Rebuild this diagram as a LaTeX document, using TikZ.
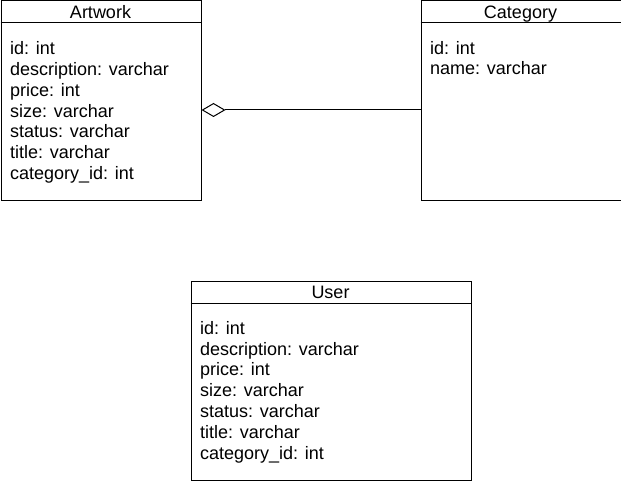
\documentclass[tikz,border=0pt]{standalone}
\usepackage{fontspec}
\setmainfont{Liberation Sans}
\usetikzlibrary{arrows.meta}
\begin{document}
\begin{tikzpicture}[x=1pt,y=-1pt,
  classbox/.style={draw=black,line width=1pt,anchor=north west,inner sep=0pt,minimum width=#1,minimum height=200pt},
  title/.style={anchor=base,inner sep=0pt,font=\fontsize{18}{21}\selectfont},
  attrs/.style={anchor=base west,inner sep=0pt,align=left,font=\fontsize{18}{20.8}\selectfont},
  sep/.style={line width=1pt}]
\useasboundingbox (0,0) rectangle (621,481);
% Artwork
\node[classbox=200pt] (art) at (0.5,0.5) {};
\draw[sep] (0.5,23) -- (200.5,23);
\node[title] (artT) at (100.5,18.5) {Artwork};
\node[attrs] (artA) at (10,179.5) {id: int\\description: varchar\\price: int\\size: varchar\\status: varchar\\title: varchar\\category\_id: int};
% Category
\node[classbox=200pt] (cat) at (420.5,0.5) {};
\draw[sep] (420.5,23) -- (620.5,23);
\node[title] (catT) at (520.5,18.5) {Category};
\node[attrs] (catA) at (430,75) {id: int\\name: varchar};
% User
\node[classbox=280pt,minimum height=199.5pt] (usr) at (190.5,280.5) {};
\draw[sep] (190.5,303) -- (470.5,303);
\node[title] (usrT) at (330.5,298.5) {User};
\node[attrs] (usrA) at (200,459) {id: int\\description: varchar\\price: int\\size: varchar\\status: varchar\\title: varchar\\category\_id: int};
% connector
\draw[line width=1pt,{Diamond[open,length=24pt,width=14pt,line width=1pt]}-] (art.east |- 0,110) -- (cat.west |- 0,110);
\end{tikzpicture}
\end{document}
